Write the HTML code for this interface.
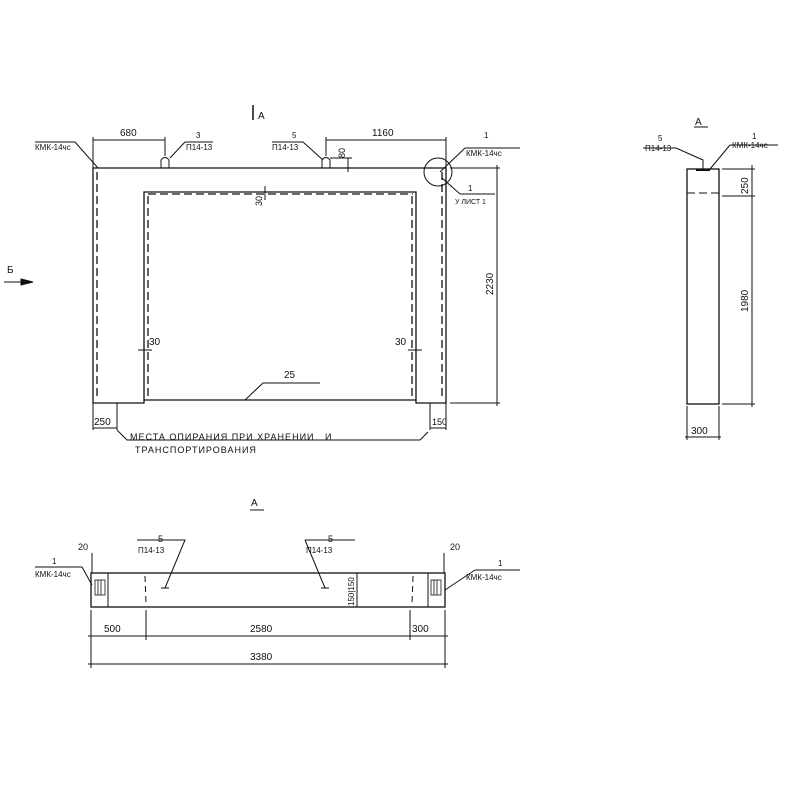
<!DOCTYPE html>
<html><head><meta charset="utf-8"><style>
html,body{margin:0;padding:0;background:#fff}
svg{display:block}
text{font-family:"Liberation Sans",sans-serif;fill:#111}
</style></head><body>
<svg width="800" height="800" viewBox="0 0 800 800" xmlns="http://www.w3.org/2000/svg">
<g stroke="#111" stroke-width="1" fill="none">
<!-- main frame -->
<path d="M93 168 H446 V403 H416 V192 H144 V403 H93 Z" stroke-width="1.3"/>
<line x1="144" y1="400" x2="416" y2="400" stroke-width="1.3"/>
<g stroke-dasharray="8,4" stroke-width="1.3">
<line x1="97" y1="172" x2="97" y2="400"/>
<line x1="148" y1="196" x2="148" y2="400"/>
<line x1="148" y1="194" x2="413" y2="194"/>
<line x1="412" y1="196" x2="412" y2="400"/>
<line x1="442" y1="172" x2="442" y2="400"/>
</g>
<!-- lifting loops -->
<path d="M161 168 V160 Q165 155 169 160 V168"/>
<path d="M322 168 V160 Q326 155 330 160 V168"/>
<!-- dims top -->
<line x1="93" y1="140" x2="165" y2="140"/>
<line x1="93" y1="137" x2="93" y2="168"/>
<line x1="165" y1="137" x2="165" y2="156"/>
<line x1="326" y1="140" x2="446" y2="140"/>
<line x1="326" y1="137" x2="326" y2="156"/>
<line x1="446" y1="137" x2="446" y2="168"/>
<line x1="348" y1="158" x2="348" y2="172"/>
<line x1="330" y1="158" x2="352" y2="158"/>
<!-- leaders -->
<path d="M35 142 H75 L98 168"/>
<path d="M185 142 H213 M185 142 L170 158"/>
<path d="M272 142 H303 L323 160"/>
<path d="M465 148 H520 M465 148 L440 172"/>
<path d="M460 194 H495 M460 194 L442 178"/>
<circle cx="438" cy="172" r="14"/>
<!-- 2230 dim -->
<line x1="450" y1="168" x2="500" y2="168"/>
<line x1="450" y1="403" x2="500" y2="403"/>
<line x1="497" y1="165" x2="497" y2="406"/>
<!-- 30 marks -->
<line x1="265" y1="186" x2="265" y2="200"/>
<line x1="138" y1="350" x2="152" y2="350"/>
<line x1="408" y1="350" x2="422" y2="350"/>
<!-- 25 leader -->
<path d="M245 400 L263 383 H320"/>
<!-- bottom dims -->
<line x1="93" y1="403" x2="93" y2="430"/>
<line x1="117" y1="403" x2="117" y2="430"/>
<line x1="93" y1="428" x2="117" y2="428"/>
<line x1="430" y1="403" x2="430" y2="430"/>
<line x1="446" y1="403" x2="446" y2="430"/>
<line x1="430" y1="428" x2="446" y2="428"/>
<path d="M117 430 L127 440 H420 L428 432"/>
<!-- Б arrow -->
<line x1="4" y1="282" x2="33" y2="282"/>
<path d="M21 279 L33 282 L21 285 Z" fill="#111"/>
<!-- A arrow -->
<line x1="253" y1="105" x2="253" y2="120" stroke-width="1.5"/>
<!-- right view -->
<rect x="687" y="169" width="32" height="235" stroke-width="1.3"/>
<line x1="687" y1="193" x2="719" y2="193" stroke-dasharray="8,4"/>
<line x1="696" y1="170" x2="710" y2="170" stroke-width="2"/>
<line x1="722" y1="169" x2="755" y2="169"/>
<line x1="722" y1="196" x2="755" y2="196"/>
<line x1="722" y1="404" x2="755" y2="404"/>
<line x1="752" y1="165" x2="752" y2="407"/>
<line x1="687" y1="406" x2="687" y2="440"/>
<line x1="719" y1="406" x2="719" y2="440"/>
<line x1="685" y1="437" x2="721" y2="437"/>
<path d="M643 148 H676 L703 160 V169"/>
<path d="M730 145 H778 M730 145 L710 169"/>
<line x1="694" y1="127" x2="708" y2="127"/>
<!-- bottom view -->
<rect x="91" y="573" width="354" height="34" stroke-width="1.3"/>
<line x1="108" y1="573" x2="108" y2="607"/>
<line x1="428" y1="573" x2="428" y2="607"/>
<line x1="145" y1="576" x2="146" y2="604" stroke-dasharray="6,4"/>
<line x1="413" y1="576" x2="412" y2="604" stroke-dasharray="6,4"/>
<g stroke-width="0.8">
<rect x="95" y="580" width="10" height="15"/>
<line x1="98" y1="580" x2="98" y2="595"/><line x1="101" y1="580" x2="101" y2="595"/>
<rect x="431" y="580" width="10" height="15"/>
<line x1="434" y1="580" x2="434" y2="595"/><line x1="437" y1="580" x2="437" y2="595"/>
</g>
<line x1="92" y1="553" x2="92" y2="573"/>
<line x1="444" y1="553" x2="444" y2="573"/>
<path d="M35 567 H82 L92 585"/>
<path d="M475 570 H520 M475 570 L445 590"/>
<path d="M137 540 H185 L165 588"/>
<path d="M305 540 H355 M305 540 L325 588"/>
<line x1="161" y1="588" x2="169" y2="588"/>
<line x1="321" y1="588" x2="329" y2="588"/>
<line x1="357" y1="573" x2="357" y2="607"/>
<line x1="91" y1="610" x2="91" y2="668"/>
<line x1="146" y1="610" x2="146" y2="640"/>
<line x1="410" y1="610" x2="410" y2="640"/>
<line x1="445" y1="610" x2="445" y2="668"/>
<line x1="88" y1="636" x2="448" y2="636"/>
<line x1="88" y1="664" x2="448" y2="664"/>
<line x1="250" y1="510" x2="264" y2="510"/>
</g>
<g font-size="10">
<text x="120" y="136">680</text>
<text x="372" y="136">1160</text>
<text x="196" y="138" font-size="8">3</text>
<text x="186" y="150" font-size="8">П14-13</text>
<text x="292" y="138" font-size="8">5</text>
<text x="272" y="150" font-size="8">П14-13</text>
<text x="35" y="150" font-size="8">КМК-14чс</text>
<text x="484" y="138" font-size="8">1</text>
<text x="466" y="156" font-size="8">КМК-14чс</text>
<text x="468" y="191" font-size="8">1</text>
<text x="455" y="204" font-size="7">У ЛИСТ 1</text>
<text x="258" y="119">А</text>
<text x="7" y="273">Б</text>
<text x="0" y="0" transform="translate(345,158) rotate(-90)" font-size="9">80</text>
<text x="0" y="0" transform="translate(262,206) rotate(-90)" font-size="9">30</text>
<text x="0" y="0" transform="translate(493,295) rotate(-90)">2230</text>
<text x="149" y="345">30</text>
<text x="395" y="345">30</text>
<text x="284" y="378">25</text>
<text x="94" y="425" font-size="10">250</text>
<text x="432" y="425" font-size="9">150</text>
<text x="130" y="440" font-size="9" letter-spacing="1">МЕСТА ОПИРАНИЯ ПРИ ХРАНЕНИИ &#160;&#160;И</text>
<text x="135" y="453" font-size="9" letter-spacing="1">ТРАНСПОРТИРОВАНИЯ</text>
<text x="695" y="125">А</text>
<text x="658" y="141" font-size="8">5</text>
<text x="645" y="151" font-size="8">П14-13</text>
<text x="752" y="139" font-size="8">1</text>
<text x="732" y="148" font-size="8">КМК-14чс</text>
<text x="0" y="0" transform="translate(748,194) rotate(-90)">250</text>
<text x="0" y="0" transform="translate(748,312) rotate(-90)">1980</text>
<text x="691" y="434">300</text>
<text x="251" y="506">А</text>
<text x="78" y="550" font-size="9">20</text>
<text x="450" y="550" font-size="9">20</text>
<text x="52" y="564" font-size="8">1</text>
<text x="35" y="577" font-size="8">КМК-14чс</text>
<text x="498" y="566" font-size="8">1</text>
<text x="466" y="580" font-size="8">КМК-14чс</text>
<text x="158" y="542" font-size="9">5</text>
<text x="138" y="553" font-size="8">П14-13</text>
<text x="328" y="542" font-size="9">5</text>
<text x="306" y="553" font-size="8">П14-13</text>
<text x="0" y="0" transform="translate(354,606) rotate(-90)" font-size="8">150|150</text>
<text x="104" y="632">500</text>
<text x="250" y="632">2580</text>
<text x="412" y="632">300</text>
<text x="250" y="660">3380</text>
</g>
</svg>
</body></html>
